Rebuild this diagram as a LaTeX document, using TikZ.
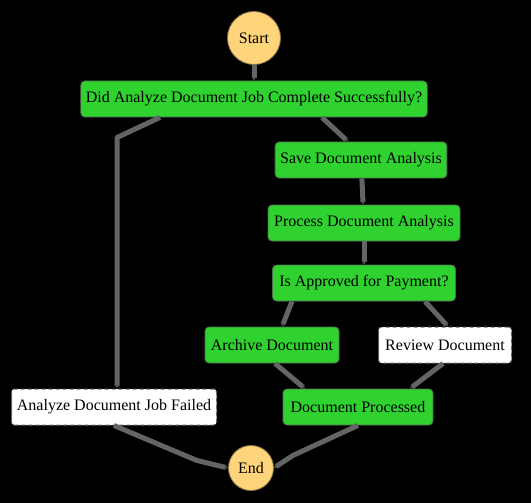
\documentclass[tikz,border=0pt]{standalone}
\usepackage{fontspec}
\setmainfont{Liberation Serif}
\usetikzlibrary{arrows.meta}
\definecolor{okgreen}{RGB}{48,210,48}
\definecolor{okedge}{RGB}{80,110,80}
\definecolor{terminal}{RGB}{255,212,122}
\definecolor{termedge}{RGB}{140,120,80}
\definecolor{wire}{RGB}{100,100,100}

\begin{document}
\begin{tikzpicture}[
    x=1pt, y=-1pt,
    every node/.style={
        font=\fontsize{16}{19}\selectfont, inner sep=0pt
    },
    state/.style={
        rectangle, rounded corners=4pt, minimum height=36pt,
        inner xsep=5pt
    },
    done/.style={
        state, fill=okgreen, draw=okedge, line width=0.8pt
    },
    open/.style={
        state, fill=white, draw=black!60, line width=1pt,
        dash pattern=on 4pt off 3pt, rounded corners=3pt
    },
    terminal/.style={
        circle, fill=terminal, draw=termedge, line width=0.8pt
    },
    flow/.style={
        draw=wire, line width=5pt, line join=round,
        -{Stealth[length=4pt,width=5pt,color=black!70]}
    }
]
    \fill[black] (0,0) rectangle (531,503);

    \node (start) [terminal, minimum size=53pt] at (254,38) {Start};
    \node (didcomplete) [done, minimum width=342pt] at (254,99)
        {Did Analyze Document Job Complete Successfully?};
    \node (save) [done, minimum width=169pt] at (361,160) {Save Document Analysis};
    \node (process) [done, minimum width=192pt] at (364,223) {Process Document Analysis};
    \node (approved) [done, minimum width=183pt] at (364,283) {Is Approved for Payment?};
    \node (archive) [done, minimum width=134pt] at (272,345) {Archive Document};
    \node (review) [open, minimum width=133pt] at (445,345) {Review Document};
    \node (failed) [open, minimum width=205pt] at (114,407) {Analyze Document Job Failed};
    \node (processed) [done, minimum width=150pt] at (358,407) {Document Processed};
    \node (endstate) [terminal, minimum size=45pt] at (251,468) {End};

    % success branch
    \draw [flow] (start) -- (didcomplete);
    \draw [flow] ([xshift=68pt]didcomplete.south) -- ([xshift=-13pt]save.north);
    \draw [flow] (save) -- (process);
    \draw [flow] (process) -- (approved);
    \draw [flow] ([xshift=-72pt]approved.south) -- ([xshift=10pt]archive.north);
    \draw [flow] ([xshift=61pt]approved.south) -- ([xshift=3pt]review.north);
    \draw [flow] ([xshift=3pt]archive.south) -- ([xshift=-53pt]processed.north);
    \draw [flow] ([xshift=-2pt]review.south) -- ([xshift=52pt]processed.north);
    \draw [flow] (processed.south) -- ++(-65,30) -- (endstate.east);

    % failure branch
    \draw [flow] ([xshift=-94pt]didcomplete.south)
        -- ([xshift=3pt,yshift=251pt]failed.north) -- ([xshift=3pt]failed.north);
    \draw [flow] (failed.south) -- ++(83,35) -- (endstate.west);

\end{tikzpicture}
\end{document}
